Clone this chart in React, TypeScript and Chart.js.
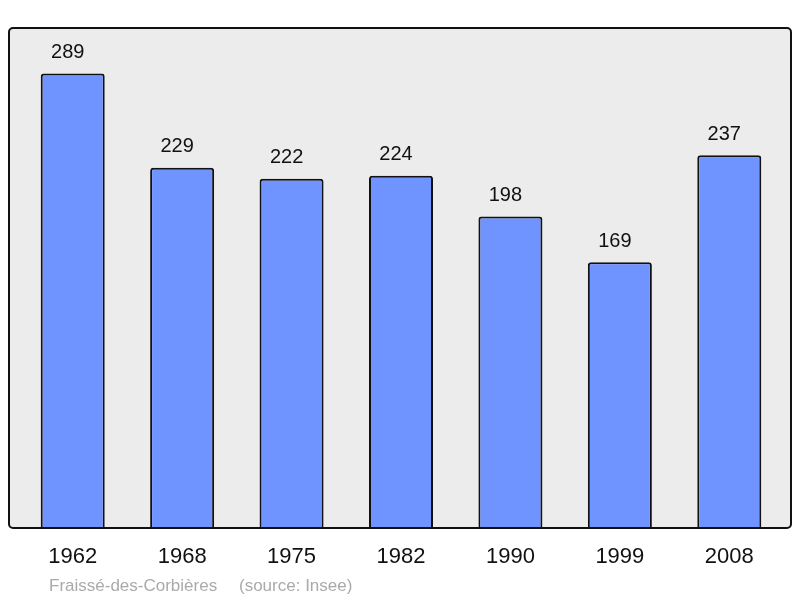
import React, { useEffect, useRef } from "react";
import { Chart, registerables } from "chart.js";

Chart.register(...registerables);

const years = ["1962", "1968", "1975", "1982", "1990", "1999", "2008"];
const population = [289, 229, 222, 224, 198, 169, 237];
const commune = "Fraissé-des-Corbières";
const source = "(source: Insee)";

const FONT = "'Liberation Sans', Arial, sans-serif";

const framePlugin = {
  id: "frame",
  beforeDatasetsDraw(chart: any) {
    const { ctx, chartArea } = chart;
    const x0 = chartArea.left - 9;
    const x1 = chartArea.right + 7;
    ctx.save();
    ctx.beginPath();
    ctx.roundRect(x0, chartArea.top, x1 - x0, chartArea.bottom - chartArea.top, 4);
    ctx.fillStyle = "#ececec";
    ctx.fill();
    ctx.restore();
  },
  afterDatasetsDraw(chart: any) {
    const { ctx, chartArea } = chart;
    const x0 = chartArea.left - 9;
    const x1 = chartArea.right + 7;
    ctx.save();
    ctx.beginPath();
    ctx.roundRect(x0, chartArea.top, x1 - x0, chartArea.bottom - chartArea.top, 4);
    ctx.lineWidth = 2;
    ctx.strokeStyle = "#111";
    ctx.stroke();

    // value labels
    const meta = chart.getDatasetMeta(0);
    ctx.fillStyle = "#111";
    ctx.font = `20px ${FONT}`;
    ctx.textAlign = "center";
    ctx.textBaseline = "middle";
    meta.data.forEach((bar: any, i: number) => {
      ctx.fillText(String(population[i]), bar.x - 5, bar.y - 21);
    });

    // footer
    ctx.fillStyle = "#aaaaaa";
    ctx.font = `17px ${FONT}`;
    ctx.textAlign = "left";
    ctx.textBaseline = "alphabetic";
    ctx.fillText(commune, 49, 591);
    ctx.fillText(source, 239, 591);
    ctx.restore();
  },
};

export default function App() {
  const ref = useRef<HTMLCanvasElement | null>(null);
  useEffect(() => {
    document.body.style.margin = "0";
    const chart = new Chart(ref.current!, {
      type: "bar",
      data: {
        labels: years,
        datasets: [
          {
            data: population,
            backgroundColor: "#7094ff",
            borderColor: "#111",
            borderWidth: 2,
            borderRadius: 3,
            borderSkipped: "bottom",
            categoryPercentage: 1,
            barPercentage: 0.585,
          },
        ],
      },
      options: {
        animation: false,
        responsive: false,
        layout: { padding: { left: 18, right: 16, top: 28, bottom: 0 } },
        plugins: { legend: { display: false }, tooltip: { enabled: false } },
        scales: {
          y: { display: false, min: 0, max: 317.9 },
          x: {
            grid: { display: false, drawTicks: false },
            border: { display: false },
            ticks: { color: "#111", font: { size: 22, family: FONT }, padding: 16 },
            afterFit: (scale: any) => {
              scale.height = 70;
            },
          },
        },
      },
      plugins: [framePlugin],
    });
    return () => chart.destroy();
  }, []);
  return (
    <div style={{ width: 800, height: 598 }}>
      <canvas ref={ref} width={800} height={598} style={{ display: "block" }} />
    </div>
  );
}
